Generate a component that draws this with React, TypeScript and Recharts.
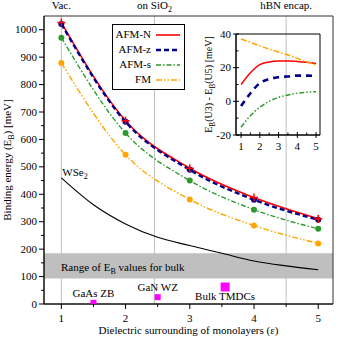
import React from "react";
import {
  ComposedChart,
  LineChart,
  Line,
  Scatter,
  XAxis,
  YAxis,
  ReferenceLine,
  ReferenceArea,
  ReferenceDot,
  Legend,
} from "recharts";

const FONT = "'Liberation Serif', 'Times New Roman', serif";

// binding energies at integer epsilon (meV)
const epsilon = [1, 2, 3, 4, 5];
const afmN = [1026, 668, 495, 388, 311];
const afmZ = [1021, 664, 489, 380, 307];
const afmS = [971, 623, 450, 344, 274];
const fm = [879, 544, 381, 286, 221];

// WSe2 reference curve
const wseEps = [1, 1.5, 2, 2.5, 3, 3.5, 4, 4.5, 5];
const wseEb = [460, 362, 292, 243, 213, 185, 157, 139, 125];

// bulk semiconductors
const bulkNames = ["GaAs ZB", "GaN WZ", "Bulk TMDCs"];
const bulkEps = [1.5, 2.5, 3.55];
const bulkEb = [4.2, 25, 62];
const bulkRange = [93, 185];

// dielectric environments
const envNames = ["Vac.", "on SiO_2", "hBN encap."];
const envEps = [1, 2.45, 4.5];

// inset: E_B(U3) - E_B(U5)
const insetEps = [1, 1.5, 2, 2.5, 3, 3.5, 4, 4.5, 5];
const diffN = [10, 17, 21.8, 23.4, 24, 24, 23.7, 23.2, 22.5];
const diffZ = [-2.8, 4.8, 10.8, 13.2, 14.3, 14.8, 15.3, 15.3, 15];
const diffS = [-15.4, -8.5, -3.5, 0, 2.4, 3.8, 4.8, 5.4, 5.7];
const diffF = [37, 35, 33, 31, 29.3, 27.5, 25.5, 23.5, 21.6];

// axes
const xDomain = [0.73, 5.23];
const yDomain = [0, 1050];
const xTicks = [1, 1.5, 2, 2.5, 3, 3.5, 4, 4.5, 5];
const yTicks = [0, 50, 100, 150, 200, 250, 300, 350, 400, 450, 500, 550, 600, 650, 700, 750, 800, 850, 900, 950, 1000];
const insetXDomain = [0.73, 5.21];
const insetYDomain = [-20, 40];
const insetYTicks = [-20, -10, 0, 10, 20, 30, 40];

const SERIES = [
  { key: "afmN", name: "AFM-N", color: "#ff0000", dash: undefined as string | undefined, width: 1.6 },
  { key: "afmZ", name: "AFM-z", color: "#00008b", dash: "5 3", width: 2.4 },
  { key: "afmS", name: "AFM-s", color: "#2e9a2e", dash: "5 2 1.5 2", width: 1.4 },
  { key: "fm", name: "FM", color: "#ffa500", dash: "6 2 1.5 2 1.5 2", width: 1.4 },
];
const INSET_DASH: Record<string, string | undefined> = {
  afmN: undefined,
  afmZ: "6 5",
  afmS: "5 2 1.5 2 1.5 2",
  fm: "6 2 1.5 2",
};

const mainData = epsilon.map((eps, i) => ({ eps, afmN: afmN[i], afmZ: afmZ[i], afmS: afmS[i], fm: fm[i] }));
const wseData = wseEps.map((eps, i) => ({ eps, eb: wseEb[i] }));
const bulkData = bulkNames.map((name, i) => ({ name, eps: bulkEps[i], eb: bulkEb[i] }));
const insetData = insetEps.map((eps, i) => ({ eps, afmN: diffN[i], afmZ: diffZ[i], afmS: diffS[i], fm: diffF[i] }));

// "_X" -> subscript X
function rich(s: string, sub = 8, shift = 3) {
  const parts = s.split(/_(\w)/);
  const out: React.ReactNode[] = [];
  let reset = 0;
  parts.forEach((p, i) => {
    if (i % 2 === 1) {
      out.push(<tspan key={i} dy={shift} fontSize={sub}>{p}</tspan>);
      reset = -shift;
    } else if (p) {
      out.push(<tspan key={i} dy={reset}>{p}</tspan>);
      reset = 0;
    }
  });
  return out;
}

const TopLabel = (p: any) => (
  <text x={p.viewBox.x} y={p.viewBox.y - 7} textAnchor="middle" fontFamily={FONT} fontSize={11} fill="#000">
    {rich(p.txt)}
  </text>
);

const DotLabel = (p: any) => {
  const vb = p.viewBox;
  return (
    <text
      x={vb.x + (vb.width || 0) / 2 + (p.dx || 0)}
      y={vb.y + (vb.height || 0) / 2 + (p.dy || 0)}
      textAnchor={p.anchor || "middle"}
      fontFamily={FONT}
      fontSize={11}
      fill="#000"
    >
      {rich(p.txt)}
    </text>
  );
};

const YTitle = (p: any) => {
  const vb = p.viewBox;
  const x = vb.x + p.off;
  const y = vb.y + vb.height / 2;
  return (
    <text x={x} y={y} transform={`rotate(-90 ${x} ${y})`} textAnchor="middle" fontFamily={FONT} fontSize={p.size} fill="#000">
      {rich(p.txt, p.size * 0.72, 2.5)}
    </text>
  );
};

const XTitle = (p: any) => {
  const vb = p.viewBox;
  return (
    <text x={vb.x + vb.width / 2} y={vb.y + p.off} textAnchor="middle" fontFamily={FONT} fontSize={11} fill="#000">
      {p.txt}
    </text>
  );
};

type TickOpts = {
  side: "left" | "bottom";
  isMajor: (v: number) => boolean;
  major: [number, number];
  minor: [number, number];
  gap: number;
};

const makeTick = (o: TickOpts) => (p: any) => {
  const v = p.payload.value;
  const mj = o.isMajor(v);
  const [a, b] = mj ? o.major : o.minor;
  if (o.side === "left") {
    return (
      <g>
        <line x1={p.x - a} x2={p.x + b} y1={p.y} y2={p.y} stroke="#000" />
        {mj && (
          <text x={p.x - o.gap} y={p.y + 3.5} textAnchor="end" fontFamily={FONT} fontSize={11} fill="#000">
            {v}
          </text>
        )}
      </g>
    );
  }
  return (
    <g>
      <line x1={p.x} x2={p.x} y1={p.y - b} y2={p.y + a} stroke="#000" />
      {mj && (
        <text x={p.x} y={p.y + o.gap} textAnchor="middle" fontFamily={FONT} fontSize={11} fill="#000">
          {v}
        </text>
      )}
    </g>
  );
};

const mainYTick = makeTick({ side: "left", isMajor: (v) => v % 100 === 0, major: [5, 0], minor: [3, 0], gap: 7 });
const mainXTick = makeTick({ side: "bottom", isMajor: (v) => Number.isInteger(v), major: [5, 0], minor: [3, 0], gap: 18 });
const insetYTick = makeTick({ side: "left", isMajor: (v) => v % 20 === 0, major: [3, 3], minor: [0, 2.5], gap: 5 });
const insetXTick = makeTick({ side: "bottom", isMajor: (v) => Number.isInteger(v), major: [3, 3], minor: [0, 2.5], gap: 15 });

const circleDot = (color: string) => (p: any) =>
  p.cx == null ? <g key={p.key} /> : <circle key={p.key} cx={p.cx} cy={p.cy} r={3} fill={color} stroke="none" />;

const plusDot = (p: any) =>
  p.cx == null ? (
    <g key={p.key} />
  ) : (
    <path key={p.key} d={`M${p.cx - 4},${p.cy}h8M${p.cx},${p.cy - 4}v8`} stroke="#ff0000" strokeWidth={1.5} fill="none" />
  );

const BulkMark = (p: any) => {
  const name = p.payload?.name;
  const s = name === "Bulk TMDCs" ? 9 : 6;
  const below = name === "Bulk TMDCs";
  return (
    <g>
      <rect x={p.cx - s / 2} y={p.cy - s / 2} width={s} height={s} fill="#ff00ff" />
      <text x={p.cx} y={below ? p.cy + 13.5 : p.cy - 6} textAnchor="middle" fontFamily={FONT} fontSize={11} fill="#000">
        {name}
      </text>
    </g>
  );
};

const LegendBox = () => (
  <div
    style={{
      boxSizing: "border-box",
      width: 73,
      border: "1px solid #000",
      background: "#fff",
      padding: "2px 4px 2px 2px",
      fontFamily: FONT,
      fontSize: 11,
      lineHeight: "15px",
      color: "#000",
    }}
  >
    {SERIES.map((s) => (
      <div key={s.name} style={{ display: "flex", alignItems: "center", justifyContent: "flex-end" }}>
        <span>{s.name}</span>
        <svg width={24} height={6} style={{ marginLeft: 5 }}>
          <line x1={0} x2={24} y1={3} y2={3} stroke={s.color} strokeWidth={s.width} strokeDasharray={s.dash} />
        </svg>
      </div>
    ))}
  </div>
);

export default function App() {
  return (
    <div style={{ position: "absolute", left: 0, top: 0, width: 338, height: 338, background: "#fff" }}>
      <ComposedChart width={338} height={338} data={mainData} margin={{ top: 16, right: 5, bottom: 0, left: 0 }}>
        <XAxis
          type="number"
          dataKey="eps"
          domain={xDomain}
          allowDataOverflow
          ticks={xTicks}
          interval={0}
          height={34}
          tickSize={0}
          tickMargin={0}
          tickLine={false}
          axisLine={{ stroke: "#000" }}
          tick={mainXTick}
          label={<XTitle txt="Dielectric surrounding of monolayers (ε)" off={29.5} />}
        />
        <YAxis
          type="number"
          domain={yDomain}
          allowDataOverflow
          ticks={yTicks}
          interval={0}
          width={44}
          tickSize={0}
          tickMargin={0}
          tickLine={false}
          axisLine={{ stroke: "#000" }}
          tick={mainYTick}
          label={<YTitle txt="Binding energy (E_B) [meV]" off={11} size={11} />}
        />
        {envEps.map((e, i) => (
          <ReferenceLine
            key={envNames[i]}
            x={e}
            stroke="#c0c0c0"
            strokeWidth={1}
            zIndex={50}
            label={<TopLabel txt={envNames[i]} />}
          />
        ))}
        <ReferenceArea y1={bulkRange[0]} y2={bulkRange[1]} fill="#bfbfbf" fillOpacity={1} stroke="none" zIndex={60} />
        <ReferenceDot
          x={1.956}
          y={(bulkRange[0] + bulkRange[1]) / 2}
          r={0}
          fill="none"
          stroke="none"
          label={<DotLabel txt="Range of E_B values for bulk" dy={5} />}
        />
        <Line
          data={wseData}
          dataKey="eb"
          type="monotone"
          stroke="#000"
          strokeWidth={1.1}
          dot={false}
          isAnimationActive={false}
        />
        <ReferenceDot
          x={wseEps[0]}
          y={wseEb[0]}
          r={0}
          fill="none"
          stroke="none"
          label={<DotLabel txt="WSe_2" anchor="start" dx={1} dy={-2} />}
        />
        <Line dataKey="afmN" type="monotone" stroke="#ff0000" strokeWidth={1.6} dot={false} isAnimationActive={false} />
        <Line
          dataKey="afmZ"
          type="monotone"
          stroke="#00008b"
          strokeWidth={2.4}
          strokeDasharray="5 3"
          dot={circleDot("#00008b")}
          isAnimationActive={false}
        />
        <Line
          dataKey="afmS"
          type="monotone"
          stroke="#2e9a2e"
          strokeWidth={1.4}
          strokeDasharray="5 2 1.5 2"
          dot={circleDot("#2e9a2e")}
          isAnimationActive={false}
        />
        <Line
          dataKey="fm"
          type="monotone"
          stroke="#ffa500"
          strokeWidth={1.4}
          strokeDasharray="6 2 1.5 2 1.5 2"
          dot={circleDot("#ffa500")}
          isAnimationActive={false}
        />
        <Line dataKey="afmN" stroke="none" dot={plusDot} isAnimationActive={false} legendType="none" />
        <Scatter data={bulkData} dataKey="eb" shape={(p: any) => <BulkMark {...p} />} isAnimationActive={false} />
        <ReferenceArea
          x1={xDomain[0]}
          x2={xDomain[1]}
          y1={yDomain[0]}
          y2={yDomain[1]}
          fill="none"
          stroke="#333"
          strokeWidth={1}
          zIndex={450}
        />
        <Legend
          layout="horizontal"
          verticalAlign="middle"
          align="center"
          wrapperStyle={{ left: 112, top: 24, width: 73 }}
          content={() => <LegendBox />}
        />
      </ComposedChart>

      <div style={{ position: "absolute", left: 190, top: 25 }}>
        <LineChart width={135} height={130} data={insetData} margin={{ top: 9, right: 5, bottom: 0, left: 0 }}>
          <XAxis
            type="number"
            dataKey="eps"
            domain={insetXDomain}
            allowDataOverflow
            ticks={xTicks}
            interval={0}
            height={20}
            tickSize={0}
            tickMargin={0}
            tickLine={false}
            axisLine={{ stroke: "#000" }}
            tick={insetXTick}
          />
          <YAxis
            type="number"
            domain={insetYDomain}
            allowDataOverflow
            ticks={insetYTicks}
            interval={0}
            width={46}
            tickSize={0}
            tickMargin={0}
            tickLine={false}
            axisLine={{ stroke: "#000" }}
            tick={insetYTick}
            label={<YTitle txt="E_B(U3) - E_B(U5) [meV]" off={22} size={10} />}
          />
          <ReferenceArea
            x1={insetXDomain[0]}
            x2={insetXDomain[1]}
            y1={insetYDomain[0]}
            y2={insetYDomain[1]}
            fill="none"
            stroke="#000"
            strokeWidth={1}
          />
          {SERIES.map((s) => (
            <Line
              key={s.key}
              dataKey={s.key}
              type="monotone"
              stroke={s.color}
              strokeWidth={s.key === "afmZ" ? 2.6 : 1.5}
              strokeDasharray={INSET_DASH[s.key]}
              dot={false}
              isAnimationActive={false}
            />
          ))}
        </LineChart>
      </div>
    </div>
  );
}
